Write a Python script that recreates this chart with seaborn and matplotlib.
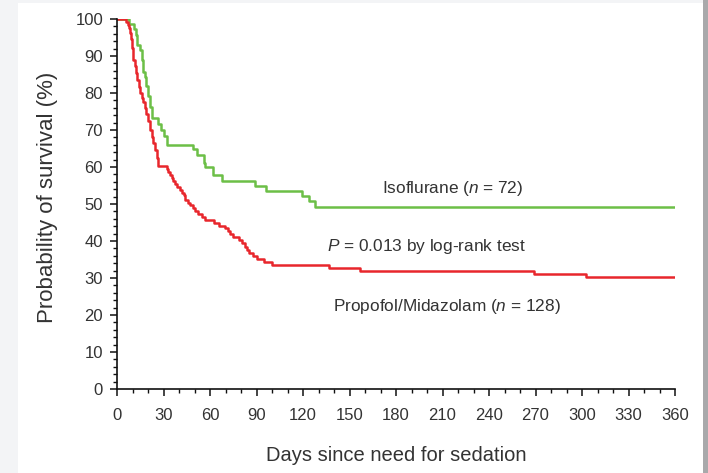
import matplotlib
matplotlib.use("Agg")
import matplotlib.pyplot as plt
import matplotlib.patches as mpatches
from matplotlib.ticker import MultipleLocator
import pandas as pd
import seaborn as sns

# Kaplan-Meier step points: day of event and survival (%) after it
iso_days = [0, 8, 11, 12, 13, 15, 16, 17, 18, 19, 20, 21, 22.4, 26.5, 28.5, 30.5, 32.5,
            49, 51.5, 56, 57, 62, 68, 89, 96, 119.5, 124, 128, 360]
iso_surv = [100, 98.6, 97.2, 95.8, 93.0, 91.7, 88.9, 85.8, 84.4, 81.9, 79.2, 76.3, 73.2, 71.6, 70.0, 68.4, 66.0,
            64.8, 63.2, 61.0, 60.0, 57.8, 56.2, 54.9, 53.5, 52.2, 50.9, 49.2, 49.2]

pm_days = [0, 5.6, 7.3, 8, 8.5, 9, 9.5, 10, 10.6, 11.5, 12.1, 13, 14, 15, 16, 17, 18.1, 19, 20, 21.3,
           22.4, 23.5, 24.6, 25.5, 26.7, 32, 33.2, 34.3, 35.3, 36.4, 37.5, 38.5, 40.5, 42, 43, 44,
           45.5, 47.2, 49, 50.4, 52.5, 54.7, 57, 62.3, 66, 69.8, 71.5, 73, 75, 78.4, 80.5, 82.7,
           84, 85, 88, 90.3, 95, 100, 136.6, 157, 269, 302.5, 360]
pm_surv = [100, 99.2, 98.4, 97.7, 96.1, 94.5, 92.2, 90.3, 88.8, 87.2, 85.3, 83.5, 81.5, 80.0, 78.6, 77.5,
           76.0, 74.2, 72.5, 70.0, 68.0, 66.4, 64.6, 62.5, 60.2, 59.4, 58.6, 57.8, 57.0, 56.3, 55.5,
           54.7, 53.9, 53.1, 52.3, 51.1, 50.4, 49.6, 48.8, 48.0, 47.3, 46.5, 45.7, 44.9, 44.1, 43.4,
           42.6, 41.8, 41.0, 40.2, 39.5, 38.3, 37.5, 36.7, 35.9, 35.1, 34.4, 33.4, 32.6, 31.8, 31.0,
           30.2, 30.2]

groups = ["Isoflurane", "Propofol/Midazolam"]
colors = {"Isoflurane": "#6cbf47", "Propofol/Midazolam": "#e8262c"}

x_ticks = list(range(0, 361, 30))
y_ticks = list(range(0, 101, 10))

df = pd.concat([
    pd.DataFrame({"day": iso_days, "surv": iso_surv, "group": groups[0]}),
    pd.DataFrame({"day": pm_days, "surv": pm_surv, "group": groups[1]}),
], ignore_index=True)

sns.set_style("ticks")
plt.rcParams["font.family"] = ["Liberation Sans", "DejaVu Sans"]
plt.rcParams["mathtext.fontset"] = "custom"
plt.rcParams["mathtext.rm"] = "Liberation Sans"
plt.rcParams["mathtext.it"] = "Liberation Sans:italic"

W, H = 708, 473
fig = plt.figure(figsize=(W / 100, H / 100), dpi=100, facecolor="#f3f4f6")

# white page panel with a soft shadow on the right edge
fig.patches.append(mpatches.Rectangle((18 / W, 0), (703 - 18) / W, (H - 3) / H,
                                      transform=fig.transFigure, facecolor="white",
                                      edgecolor="none", zorder=-10))
fig.patches.append(mpatches.Rectangle((703 / W, 0), 5 / W, 1,
                                      transform=fig.transFigure, facecolor="#a9a9ab",
                                      edgecolor="none", zorder=-10))

left, right, top, bottom = 117, 675, 19, 389
ax = fig.add_axes([left / W, (H - bottom) / H, (right - left) / W, (bottom - top) / H])
ax.set_facecolor("none")
ax.set_zorder(5)

sns.lineplot(data=df, x="day", y="surv", hue="group", palette=colors,
             drawstyle="steps-post", estimator=None, sort=False,
             linewidth=1.8, legend=False, ax=ax)

ax.set_xlim(0, 360)
ax.set_ylim(0, 100)
ax.set_xticks(x_ticks)
ax.set_yticks(y_ticks)
ax.xaxis.set_minor_locator(MultipleLocator(10))
ax.yaxis.set_minor_locator(MultipleLocator(2))
ax.tick_params(which="major", length=5, width=1.1, color="#111111",
               labelsize=12, labelcolor="#333333")
ax.tick_params(axis="x", which="major", pad=9)
ax.tick_params(axis="y", which="major", pad=5)
ax.tick_params(which="minor", length=3, width=1.0, color="#111111")
for s in ["top", "right"]:
    ax.spines[s].set_visible(False)
for s in ["left", "bottom"]:
    ax.spines[s].set_linewidth(1.2)
    ax.spines[s].set_color("#111111")

ax.set_xlabel("Days since need for sedation", fontsize=14.5, color="#333333")
ax.set_ylabel("Probability of survival (%)", fontsize=16, color="#333333")
ax.xaxis.set_label_coords(0.5, -0.155)
ax.yaxis.set_label_coords(-0.106, 0.519)

ax.text(216.5, 54.1, "Isoflurane ($n$ = 72)", ha="center", va="center",
        fontsize=12.4, color="#333333")
ax.text(199.7, 38.5, "$P$ = 0.013 by log-rank test", ha="center", va="center",
        fontsize=12.4, color="#333333")
ax.text(212.7, 22.2, "Propofol/Midazolam ($n$ = 128)", ha="center", va="center",
        fontsize=12.4, color="#333333")

fig.savefig("out.png", dpi=100, facecolor=fig.get_facecolor())
